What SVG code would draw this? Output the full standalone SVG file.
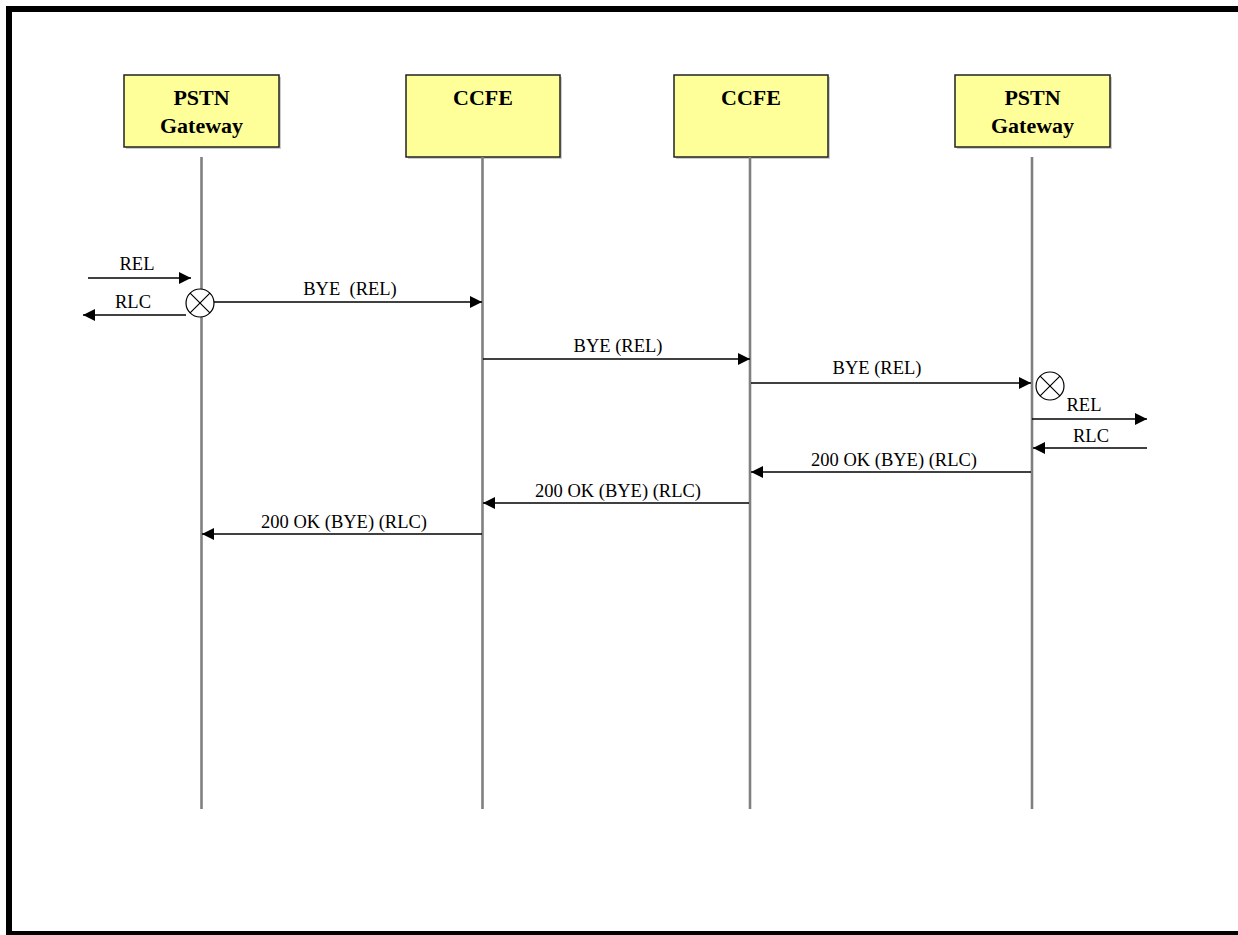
<svg xmlns="http://www.w3.org/2000/svg" width="1238" height="935" viewBox="0 0 1238 935">
<style>
.frame{fill:none;stroke:#000;stroke-width:6}
.box{fill:#FFFF99;stroke:#222;stroke-width:1.5}
.shadow{fill:#999;opacity:0.5}
.life{stroke:#808080;stroke-width:2.6}
.title{font-family:"Liberation Serif","Times New Roman",serif;font-weight:bold;font-size:22px;fill:#000;text-anchor:middle}
.msg{stroke:#000;stroke-width:1.4;fill:none;marker-end:url(#ah)}
.lbl{font-family:"Liberation Serif","Times New Roman",serif;font-size:18.5px;fill:#000;text-anchor:middle}
.x{fill:#fff;stroke:#000;stroke-width:1.2}
</style>
<defs>
<marker id="ah" markerUnits="userSpaceOnUse" markerWidth="12" markerHeight="12" refX="12" refY="6" orient="auto">
<path d="M0,0 L12,6 L0,12 z" fill="#000"/>
</marker>
</defs>
<rect x="0" y="0" width="1238" height="935" fill="#fff"/>
<rect class="frame" x="9" y="9" width="1240" height="925"/>

<g id="node-pstn1">
<rect class="shadow" x="126" y="77" width="155" height="72"/>
<rect class="box" x="124" y="75" width="155" height="72"/>
<text class="title" x="201.5" y="105">PSTN</text>
<text class="title" x="201.5" y="133">Gateway</text>
<line class="life" x1="201.5" y1="157" x2="201.5" y2="809"/>
</g>
<g id="node-ccfe1">
<rect class="shadow" x="408" y="77" width="154" height="82"/>
<rect class="box" x="406" y="75" width="154" height="82"/>
<text class="title" x="483" y="105">CCFE</text>
<line class="life" x1="482.5" y1="157" x2="482.5" y2="809"/>
</g>
<g id="node-ccfe2">
<rect class="shadow" x="676" y="77" width="154" height="82"/>
<rect class="box" x="674" y="75" width="154" height="82"/>
<text class="title" x="751" y="105">CCFE</text>
<line class="life" x1="750" y1="157" x2="750" y2="809"/>
</g>
<g id="node-pstn2">
<rect class="shadow" x="957" y="77" width="155" height="72"/>
<rect class="box" x="955" y="75" width="155" height="72"/>
<text class="title" x="1032.5" y="105">PSTN</text>
<text class="title" x="1032.5" y="133">Gateway</text>
<line class="life" x1="1032" y1="157" x2="1032" y2="809"/>
</g>

<g id="release-left">
<circle class="x" cx="200" cy="303" r="14"/>
<path d="M190.1,293.1 L209.9,312.9 M209.9,293.1 L190.1,312.9" stroke="#000" stroke-width="1.2"/>
</g>
<g id="release-right">
<circle class="x" cx="1050" cy="386" r="14"/>
<path d="M1040.1,376.1 L1059.9,395.9 M1059.9,376.1 L1040.1,395.9" stroke="#000" stroke-width="1.2"/>
</g>

<g id="connectors">
<line class="msg" x1="88" y1="278" x2="191" y2="278"/>
<text class="lbl" x="137" y="270">REL</text>
<line class="msg" x1="186" y1="315" x2="83" y2="315"/>
<text class="lbl" x="133" y="308">RLC</text>
<line class="msg" x1="214" y1="302" x2="482" y2="302"/>
<text class="lbl" x="350" y="295" xml:space="preserve">BYE  (REL)</text>
<line class="msg" x1="483" y1="359" x2="750" y2="359"/>
<text class="lbl" x="618" y="352">BYE (REL)</text>
<line class="msg" x1="751" y1="383" x2="1031" y2="383"/>
<text class="lbl" x="877" y="374">BYE (REL)</text>
<line class="msg" x1="1032" y1="419" x2="1147" y2="419"/>
<text class="lbl" x="1084" y="411">REL</text>
<line class="msg" x1="1147" y1="448" x2="1033" y2="448"/>
<text class="lbl" x="1091" y="442">RLC</text>
<line class="msg" x1="1031" y1="472" x2="751" y2="472"/>
<text class="lbl" x="894" y="466">200 OK (BYE) (RLC)</text>
<line class="msg" x1="749" y1="503" x2="483" y2="503"/>
<text class="lbl" x="618" y="497">200 OK (BYE) (RLC)</text>
<line class="msg" x1="482" y1="534" x2="202" y2="534"/>
<text class="lbl" x="344" y="528">200 OK (BYE) (RLC)</text>
</g>
</svg>
